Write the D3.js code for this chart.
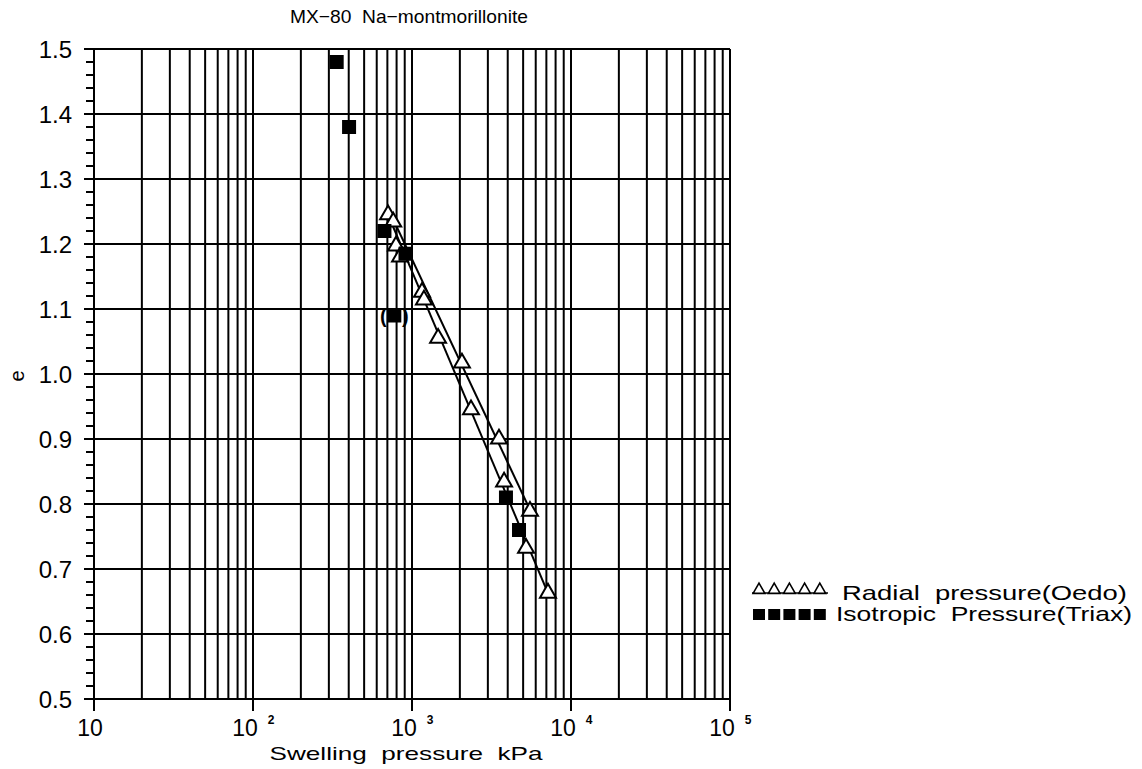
<!DOCTYPE html>
<html><head><meta charset="utf-8">
<script src="https://cdn.jsdelivr.net/npm/d3@7"></script>
<style>
body{margin:0;background:#fff;}
text{font-family:"Liberation Sans",Arial,sans-serif;fill:#000;white-space:pre;}
</style></head>
<body>
<svg id="chart" width="1142" height="769"></svg>
<script>
// ---- data ----
const title = "MX\u221280  Na\u2212montmorillonite";
const xLabel = "Swelling  pressure  kPa";
const yLabel = "e";
const radialP = [707, 762, 793, 841, 1156, 1189, 1459, 2061, 2350, 3524, 3794, 5521, 5215, 7164];
const radialE = [1.245, 1.234, 1.197, 1.180, 1.126, 1.114, 1.055, 1.017, 0.945, 0.900, 0.834, 0.789, 0.732, 0.663];
const isoP = [336, 402, 671, 910, 3899, 4710];
const isoE = [1.48, 1.38, 1.22, 1.185, 0.81, 0.76];
const bracketP = [774];
const bracketE = [1.09];
const fitAP = [707, 7164];
const fitAE = [1.245, 0.663];
const fitBP = [716, 5598];
const fitBE = [1.252, 0.788];
const xTickValues = [10, 100, 1000, 10000, 100000];
const xTickBase = ["10", "10", "10", "10", "10"];
const xTickExp = ["", "2", "3", "4", "5"];
const legendLabels = ["Radial  pressure(Oedo)", "Isotropic  Pressure(Triax)"];

// ---- chart ----
const svg = d3.select("#chart");
const x = d3.scaleLog().domain([10, 1e5]).range([94, 730]);
const y = d3.scaleLinear().domain([0.5, 1.5]).range([699, 49]);
const SW = 2;

// vertical grid (all log ticks)
svg.append("g").selectAll("line").data(x.ticks()).join("line")
  .attr("x1", d => x(d)).attr("x2", d => x(d))
  .attr("y1", y(1.5))
  .attr("y2", d => xTickValues.includes(d) ? y(0.5) + 12 : y(0.5))
  .attr("stroke", "#000").attr("stroke-width", SW);

// horizontal grid
svg.append("g").selectAll("line").data(y.ticks(10)).join("line")
  .attr("x1", x(10) - 10).attr("x2", x(1e5))
  .attr("y1", d => y(d)).attr("y2", d => y(d))
  .attr("stroke", "#000").attr("stroke-width", SW);

// minor y ticks
svg.append("g").selectAll("line").data(y.ticks(50)).join("line")
  .attr("x1", x(10) - 8).attr("x2", x(10))
  .attr("y1", d => y(d)).attr("y2", d => y(d))
  .attr("stroke", "#000").attr("stroke-width", SW);

// y tick labels
svg.append("g").selectAll("text").data(y.ticks(10)).join("text")
  .attr("x", 72).attr("y", d => y(d) + 8.5)
  .attr("text-anchor", "end").attr("font-size", 24)
  .text(d => d3.format(".1f")(d));

// x tick labels
const xl = svg.append("g").selectAll("g").data(xTickValues).join("g")
  .attr("transform", d => `translate(${x(d)},0)`);
xl.append("text")
  .attr("x", (d, i) => xTickExp[i] ? -8 : -4).attr("y", 736)
  .attr("text-anchor", "middle").attr("font-size", 23)
  .text((d, i) => xTickBase[i]);
xl.append("text")
  .attr("x", 18).attr("y", 724)
  .attr("text-anchor", "middle").attr("font-size", 12).attr("font-weight", "bold")
  .text((d, i) => xTickExp[i]);

// axis titles
svg.append("text").attr("x", 406).attr("y", 760).attr("text-anchor", "middle")
  .attr("font-size", 19).attr("textLength", 273).attr("lengthAdjust", "spacingAndGlyphs").text(xLabel);
svg.append("text").attr("transform", "translate(24,376) rotate(-90)")
  .attr("text-anchor", "middle").attr("font-size", 20).text(yLabel);
svg.append("text").attr("x", 409).attr("y", 23).attr("text-anchor", "middle")
  .attr("font-size", 19).attr("textLength", 238).attr("lengthAdjust", "spacingAndGlyphs").text(title);

// fit lines
const line = d3.line().x(d => x(d[0])).y(d => y(d[1]));
[[fitAP, fitAE], [fitBP, fitBE]].forEach(([P, E]) => {
  svg.append("path").datum(P.map((p, i) => [p, E[i]]))
    .attr("d", line).attr("fill", "none").attr("stroke", "#000").attr("stroke-width", 2);
});

// triangles
const tri = d3.symbol().type(d3.symbolTriangle).size(110);
svg.append("g").selectAll("path").data(radialP.map((p, i) => [p, radialE[i]])).join("path")
  .attr("transform", d => `translate(${x(d[0])},${y(d[1])})`)
  .attr("d", tri).attr("fill", "#fff").attr("stroke", "#000").attr("stroke-width", 2);

// squares
svg.append("g").selectAll("rect").data(isoP.map((p, i) => [p, isoE[i]]).concat(bracketP.map((p, i) => [p, bracketE[i]]))).join("rect")
  .attr("x", d => x(d[0]) - 7).attr("y", d => y(d[1]) - 7)
  .attr("width", 14).attr("height", 14).attr("fill", "#000");

// brackets around uncertain point
bracketP.forEach((p, i) => {
  svg.append("text").attr("x", x(p) - 11).attr("y", y(bracketE[i]) + 7)
    .attr("text-anchor", "middle").attr("font-size", 20).attr("font-weight", "bold").text("(");
  svg.append("text").attr("x", x(p) + 11).attr("y", y(bracketE[i]) + 7)
    .attr("text-anchor", "middle").attr("font-size", 20).attr("font-weight", "bold").text(")");
});

// legend
const lg = svg.append("g");
const ltri = d3.symbol().type(d3.symbolTriangle).size(60);
lg.append("line").attr("x1", 752).attr("x2", 828).attr("y1", 593).attr("y2", 593)
  .attr("stroke", "#000").attr("stroke-width", 1.5);
d3.range(5).forEach(k => {
  lg.append("path").attr("transform", `translate(${759 + k * 15.2},590)`)
    .attr("d", ltri).attr("fill", "#fff").attr("stroke", "#000").attr("stroke-width", 1.6);
  lg.append("rect").attr("x", 753 + k * 15.2).attr("y", 609).attr("width", 12).attr("height", 11)
    .attr("fill", "#000");
});
lg.append("text").attr("x", 842).attr("y", 600).attr("font-size", 21)
  .attr("textLength", 285).attr("lengthAdjust", "spacingAndGlyphs").text(legendLabels[0]);
lg.append("text").attr("x", 836).attr("y", 621).attr("font-size", 21)
  .attr("textLength", 296).attr("lengthAdjust", "spacingAndGlyphs").text(legendLabels[1]);
</script>
</body></html>
